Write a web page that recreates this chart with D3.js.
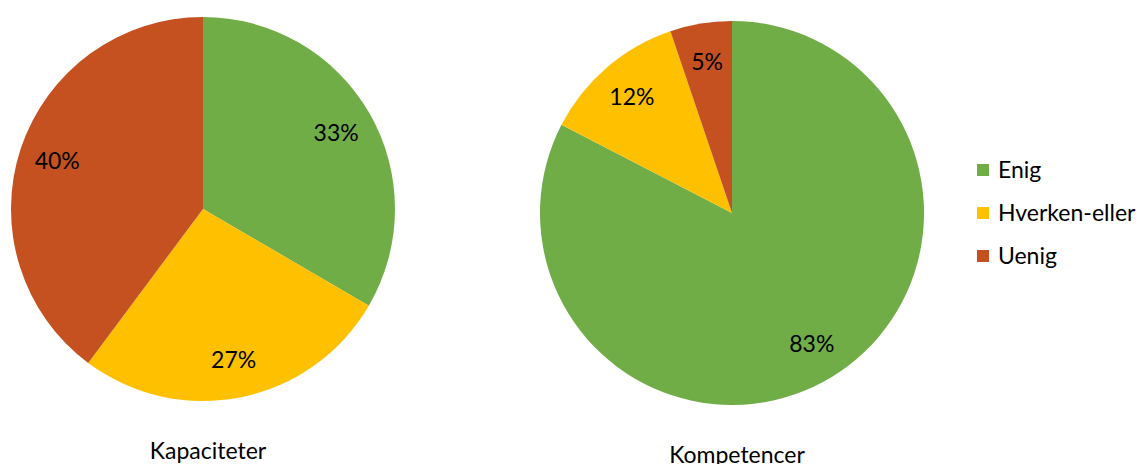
<!DOCTYPE html>
<html><head><meta charset="utf-8">
<script src="https://cdn.jsdelivr.net/npm/d3@7"></script>
<style>body{margin:0;background:#fff}svg{display:block}text{font-family:Lato,"Open Sans",sans-serif;fill:#000}</style>
</head><body>
<svg id="c" width="1146" height="464"></svg>
<script>
const categories = ["Enig", "Hverken-eller", "Uenig"];
const chartTitles = ["Kapaciteter", "Kompetencer"];
const kapaciteterValues = [33.4, 26.8, 39.8];
const kompetencerValues = [82.6, 12.2, 5.2];
const colors = ["#70AD47", "#FFC000", "#C4511F"];

const svg = d3.select("#c");
const color = d3.scaleOrdinal().domain(categories).range(colors);
const pie = d3.pie().sort(null).value(d => d.v);
const R = 192;
const arc = d3.arc().innerRadius(0).outerRadius(R);
const labelArc = d3.arc().innerRadius(R*0.8).outerRadius(R*0.8);
const fmt = v => Math.round(v) + "%";

const charts = [
  {title: chartTitles[0], values: kapaciteterValues, cx: 203, cy: 209, ty: 451},
  {title: chartTitles[1], values: kompetencerValues, cx: 732, cy: 213, ty: 455}
];
charts.forEach(c => {
  const data = categories.map((k, i) => ({k, v: c.values[i]}));
  const g = svg.append("g").attr("transform", `translate(${c.cx},${c.cy})`);
  const arcs = pie(data);
  g.selectAll("path").data(arcs).join("path")
    .attr("d", arc).attr("fill", d => color(d.data.k));
  g.selectAll("text.l").data(arcs).join("text").attr("class","l")
    .attr("transform", d => `translate(${labelArc.centroid(d)})`)
    .attr("text-anchor","middle").attr("dy","0.35em")
    .style("font-size","23px").text(d => fmt(d.data.v));
  svg.append("text").attr("x", c.cx + 5).attr("y", c.ty).attr("text-anchor","middle")
    .attr("dy","0.35em").style("font-size","23px").text(c.title);
});

const lg = svg.append("g").attr("transform","translate(977,0)");
const ly = d3.scalePoint().domain(categories).range([170, 256]);
categories.forEach(k => {
  lg.append("rect").attr("x",0).attr("y",ly(k)-6).attr("width",12).attr("height",12).attr("fill",color(k));
  lg.append("text").attr("x",21).attr("y",ly(k)).attr("dy","0.35em").style("font-size","23px").text(k);
});
</script>
</body></html>
